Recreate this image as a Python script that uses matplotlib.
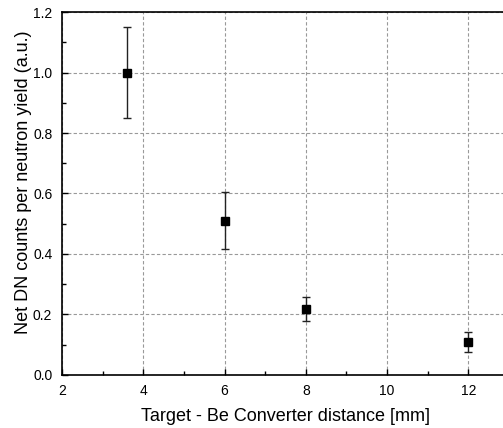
import matplotlib.pyplot as plt
from matplotlib.ticker import MultipleLocator

plt.rcParams['font.family'] = ['Liberation Sans', 'DejaVu Sans']

# Data
distance = [3.6, 6, 8, 12]
counts = [1.0, 0.51, 0.218, 0.107]
errors = [0.15, 0.094, 0.039, 0.033]

fig = plt.figure(figsize=(5.03, 4.28), dpi=100)
ax = fig.add_axes([62 / 503, 53.3 / 428, 447 / 503, 362.4 / 428])

ax.grid(True, which='major', linestyle=(0, (3, 2)), color='#999999', linewidth=0.8)
ax.set_axisbelow(True)

ax.errorbar(distance, counts, yerr=errors, fmt='s', color='black',
            markersize=6, ecolor='#222222', elinewidth=1, capsize=3, capthick=1)

ax.set_xlim(2, 13)
ax.set_ylim(0, 1.2)
ax.xaxis.set_major_locator(MultipleLocator(2))
ax.xaxis.set_minor_locator(MultipleLocator(1))
ax.yaxis.set_major_locator(MultipleLocator(0.2))
ax.yaxis.set_minor_locator(MultipleLocator(0.1))
ax.tick_params(which='both', direction='in', top=False, right=False, labelsize=10)
ax.tick_params(which='major', length=4, width=1)
ax.tick_params(which='minor', length=3, width=1)
ax.tick_params(axis='y', pad=7)
ax.tick_params(axis='x', pad=7)
ax.yaxis.set_major_formatter(plt.FuncFormatter(lambda v, p: f"{v:.1f}"))

for s in ax.spines.values():
    s.set_linewidth(1.2)

ax.set_xlabel("Target - Be Converter distance [mm]", fontsize=13, labelpad=7)
ax.set_ylabel("Net DN counts per neutron yield (a.u.)", fontsize=13)
ax.yaxis.set_label_coords(-0.068, 0.53)

fig.savefig("out.png", dpi=100)
